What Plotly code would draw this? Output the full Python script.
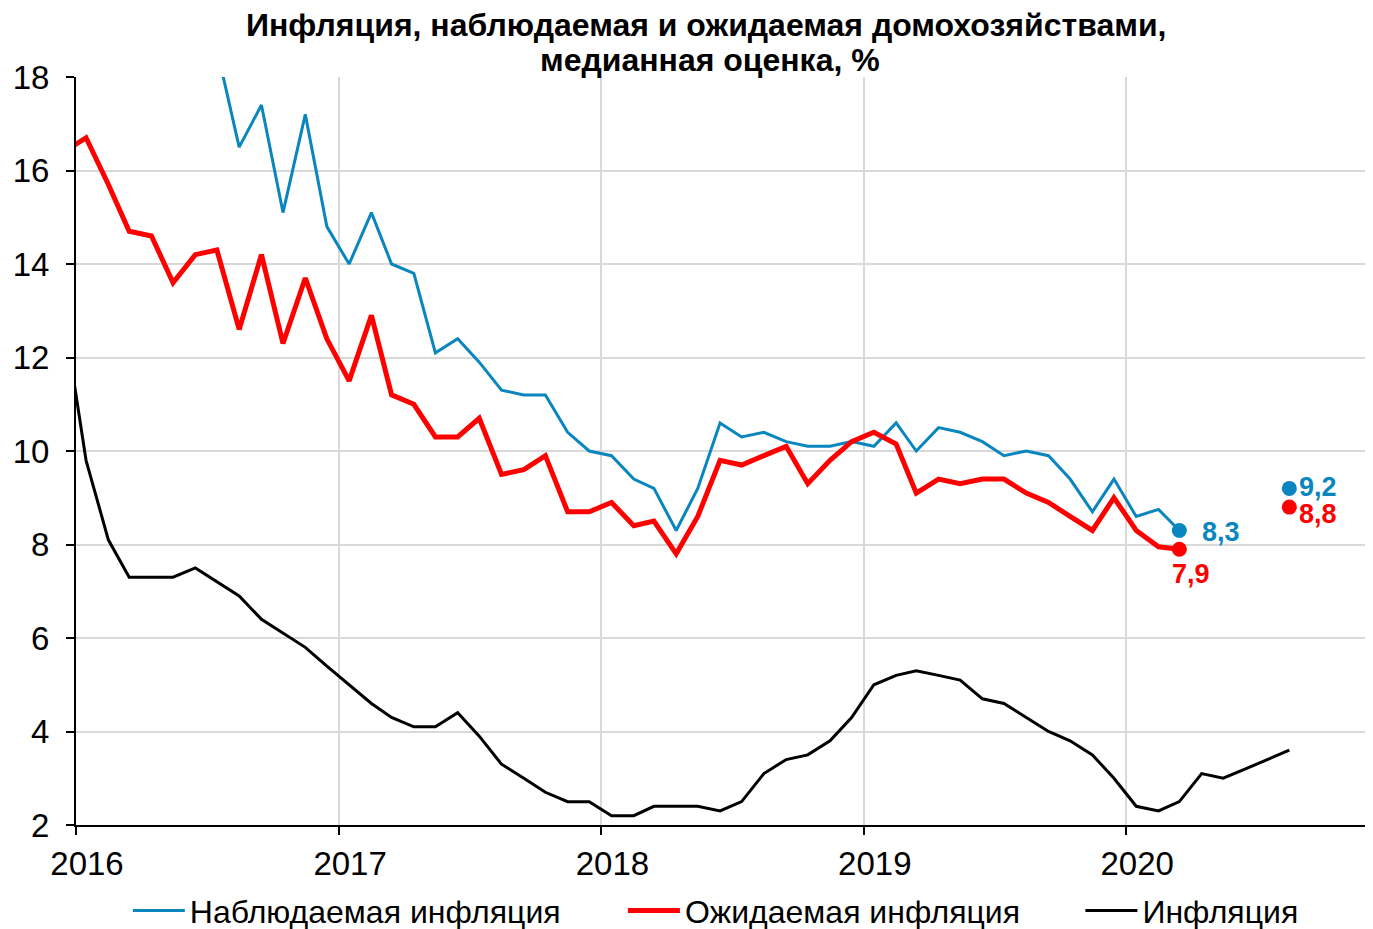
import pandas as pd
import plotly.graph_objects as go

# Monthly data, Dec 2015 .. Aug 2020 (points plotted mid-month)
start_month = "2015-12-01"
n_months = 57

observed = [None, None, None, None, None, None, None, 18.6,          # Dec15..Jul16
            16.5, 17.4, 15.1, 17.2, 14.8,                             # Aug16..Dec16
            14.0, 15.1, 14.0, 13.8, 12.1, 12.4, 11.9, 11.3, 11.2, 11.2, 10.4, 10.0,   # 2017
            9.9, 9.4, 9.2, 8.3, 9.2, 10.6, 10.3, 10.4, 10.2, 10.1, 10.1, 10.2,        # 2018
            10.1, 10.6, 10.0, 10.5, 10.4, 10.2, 9.9, 10.0, 9.9, 9.4, 8.7, 9.4,        # 2019
            8.6, 8.75, 8.3, None, None, None, None, None]                             # 2020

expected = [16.4,                                                                     # Dec15
            16.7, 15.7, 14.7, 14.6, 13.6, 14.2, 14.3, 12.6, 14.2, 12.3, 13.7, 12.4,   # 2016
            11.5, 12.9, 11.2, 11.0, 10.3, 10.3, 10.7, 9.5, 9.6, 9.9, 8.7, 8.7,        # 2017
            8.9, 8.4, 8.5, 7.8, 8.6, 9.8, 9.7, 9.9, 10.1, 9.3, 9.8, 10.2,             # 2018
            10.4, 10.15, 9.1, 9.4, 9.3, 9.4, 9.4, 9.1, 8.9, 8.6, 8.3, 9.0,            # 2019
            8.3, 7.95, 7.9, None, None, None, None, None]                             # 2020

inflation = [12.9,                                                                    # Dec15
             9.8, 8.1, 7.3, 7.3, 7.3, 7.5, 7.2, 6.9, 6.4, 6.1, 5.8, 5.4,              # 2016
             5.0, 4.6, 4.3, 4.1, 4.1, 4.4, 3.9, 3.3, 3.0, 2.7, 2.5, 2.5,              # 2017
             2.2, 2.2, 2.4, 2.4, 2.4, 2.3, 2.5, 3.1, 3.4, 3.5, 3.8, 4.3,              # 2018
             5.0, 5.2, 5.3, 5.2, 5.1, 4.7, 4.6, 4.3, 4.0, 3.8, 3.5, 3.0,              # 2019
             2.4, 2.3, 2.5, 3.1, 3.0, 3.2, 3.4, 3.6]                                  # 2020

# Latest survey (Aug 2020) points
latest_month = "2020-08-01"
observed_latest = 9.2
expected_latest = 8.8
last_line_index = 51  # Mar 2020

names = ["Наблюдаемая инфляция", "Ожидаемая инфляция", "Инфляция"]
title_lines = ["Инфляция, наблюдаемая и ожидаемая домохозяйствами,", "медианная оценка, %"]

BLUE = "#0A86BE"
RED = "#FF0000"
BLACK = "#000000"
FONT = "Liberation Sans, Arial, sans-serif"

dates = pd.date_range(start_month, periods=n_months, freq="MS") + pd.Timedelta(days=14)
latest_date = pd.Timestamp(latest_month) + pd.Timedelta(days=14)

fig = go.Figure()
fig.add_trace(go.Scatter(x=dates, y=observed, mode="lines", name=names[0],
                         line=dict(color=BLUE, width=3), legend="legend"))
fig.add_trace(go.Scatter(x=dates, y=expected, mode="lines", name=names[1],
                         line=dict(color=RED, width=5), legend="legend2"))
fig.add_trace(go.Scatter(x=dates, y=inflation, mode="lines", name=names[2],
                         line=dict(color=BLACK, width=3), legend="legend3"))

# end-point markers
fig.add_trace(go.Scatter(x=[dates[last_line_index], latest_date],
                         y=[observed[last_line_index], observed_latest],
                         mode="markers", marker=dict(color=BLUE, size=15),
                         showlegend=False, hoverinfo="skip"))
fig.add_trace(go.Scatter(x=[dates[last_line_index], latest_date],
                         y=[expected[last_line_index], expected_latest],
                         mode="markers", marker=dict(color=RED, size=15),
                         showlegend=False, hoverinfo="skip"))

def fmt(v):
    return f"{v:.1f}".replace(".", ",")

label_font = dict(family=FONT, size=27)
annotations = [
    dict(x=dates[last_line_index], y=observed[last_line_index], text=f"<b>{fmt(observed[last_line_index])}</b>",
         font=dict(color=BLUE, **label_font), showarrow=False, xshift=42, yshift=-2),
    dict(x=dates[last_line_index], y=expected[last_line_index], text=f"<b>{fmt(expected[last_line_index])}</b>",
         font=dict(color=RED, **label_font), showarrow=False, xshift=12, yshift=-25),
    dict(x=latest_date, y=observed_latest, text=f"<b>{fmt(observed_latest)}</b>",
         font=dict(color=BLUE, **label_font), showarrow=False, xshift=29, yshift=1),
    dict(x=latest_date, y=expected_latest, text=f"<b>{fmt(expected_latest)}</b>",
         font=dict(color=RED, **label_font), showarrow=False, xshift=29, yshift=-7),
    # title lines
    dict(xref="paper", yref="paper", x=0.486, y=1.0695, xanchor="center", yanchor="middle",
         text=f"<b>{title_lines[0]}</b>", showarrow=False,
         font=dict(family=FONT, size=32, color="black")),
    dict(xref="paper", yref="paper", x=0.489, y=1.0227, xanchor="center", yanchor="middle",
         text=f"<b>{title_lines[1]}</b>", showarrow=False,
         font=dict(family=FONT, size=32, color="black")),
]

leg_common = dict(orientation="h", y=-0.1145, yanchor="middle", xanchor="left",
                  font=dict(family=FONT, size=32), itemwidth=52, bgcolor="rgba(0,0,0,0)")

# page body has an 8px margin, so the figure is 8px smaller than the window
fig.update_layout(
    width=1365, height=921,
    margin=dict(l=68, r=1, t=69, b=104, autoexpand=False),
    paper_bgcolor="white", plot_bgcolor="white",
    font=dict(family=FONT, color="black", size=30),
    showlegend=True,
    legend=dict(x=0.040, **leg_common),
    legend2=dict(x=0.422, **leg_common),
    legend3=dict(x=0.775, **leg_common),
    annotations=annotations,
)

fig.update_xaxes(type="date", range=["2016-01-01", "2020-12-08"],
                 dtick="M12", tick0="2016-01-01", tickformat="%Y",
                 showgrid=True, gridcolor="#D9D9D9", gridwidth=2,
                 showline=True, linecolor="black", linewidth=2,
                 ticks="outside", ticklen=8, tickwidth=2, tickcolor="black",
                 tickfont=dict(family=FONT, size=33), ticklabelstandoff=0,
                 ticklabelshift=11)
fig.update_yaxes(range=[2, 18], dtick=2, tick0=2,
                 showgrid=True, gridcolor="#D9D9D9", gridwidth=2,
                 showline=True, linecolor="black", linewidth=2,
                 ticks="outside", ticklen=8, tickwidth=2, tickcolor="black",
                 tickfont=dict(family=FONT, size=33), ticklabelstandoff=10,
                 zeroline=False)

fig.write_html("out.html")
